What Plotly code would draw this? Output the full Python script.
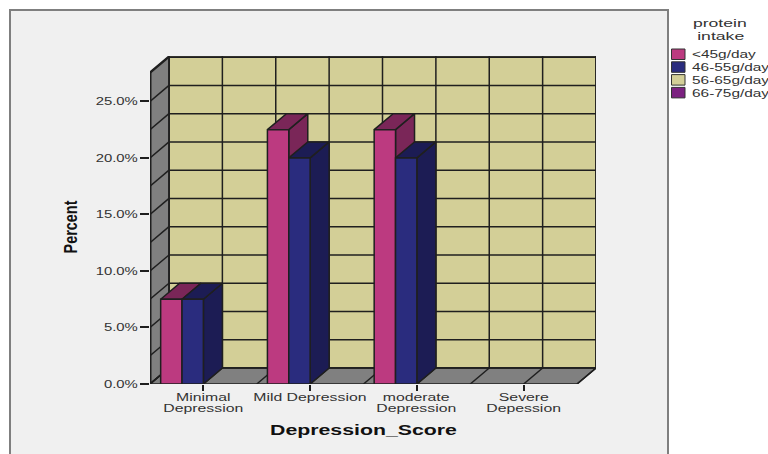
import json
import plotly.graph_objects as go

# Chart values
categories = ["Minimal Depression", "Mild Depression", "moderate Depression", "Severe Depession"]
tick_first_lines = ["Minimal", "Mild Depression", "moderate", "Severe"]
tick_second_lines = ["Depression", "", "Depression", "Depession"]
legend_title_lines = ["protein", "intake"]
series_names = ["<45g/day", "46-55g/day", "56-65g/day", "66-75g/day"]
intake_under_45 = [7.5, 22.5, 22.5, 0]
intake_46_55 = [7.5, 20.0, 20.0, 0]
intake_56_65 = [0, 0, 0, 0]
intake_66_75 = [0, 0, 0, 0]
y_ticks = [0, 5, 10, 15, 20, 25]
grid_values = [0, 2.5, 5, 7.5, 10, 12.5, 15, 17.5, 20, 22.5, 25, 27.5]

# Face colours per series: front, top, side
front_colors = ["#BC3A80", "#2A2C7E", "#D3CF97", "#7B2180"]
top_colors = ["#7A2658", "#1C1C54", "#8E8B63", "#501555"]
side_colors = ["#7A2658", "#1C1C54", "#8E8B63", "#501555"]
all_series = [intake_under_45, intake_46_55, intake_56_65, intake_66_75]

WALL = "#D3CF97"
SHADE = "#808080"
EDGE = "#1f1f1f"
PANEL = "#F0F0F0"
TEXT = "#333333"
FONT = "Liberation Sans"

# Oblique projection: depth offset expressed in axis units
DX = 0.178
DY = 1.416
BAR_W = 0.2
X_LO, X_HI = -0.5, 3.5
Y_TOP = 27.6

# Plot area in page pixels, used for placing items outside the axes
PL, PR, PT, PB = 150, 596, 56, 384


def px(x):
    return (x - PL) / (PR - PL)


def py(y):
    return (PB - y) / (PB - PT)


fig = go.Figure()
shapes = [
    dict(type="rect", xref="paper", yref="paper", x0=px(10), x1=px(668), y0=py(470), y1=py(10),
         fillcolor=PANEL, line=dict(color="#7f7f7f", width=2), layer="below"),
]


def poly(xs, ys, fill, width=1.5):
    path = "M" + " L".join(f"{a},{b}" for a, b in zip(xs, ys)) + " Z"
    shapes.append(dict(type="path", path=path, xref="x", yref="y", fillcolor=fill,
                       line=dict(color=EDGE, width=width), layer="below"))


def seg(x0, y0, x1, y1, width=1.5):
    shapes.append(dict(type="line", xref="x", yref="y", x0=x0, y0=y0, x1=x1, y1=y1,
                       line=dict(color=EDGE, width=width), layer="below"))


# Back wall, side wall and floor
poly([X_LO + DX, X_HI + DX, X_HI + DX, X_LO + DX], [DY, DY, Y_TOP + DY, Y_TOP + DY], WALL)
poly([X_LO, X_LO + DX, X_LO + DX, X_LO], [0, DY, Y_TOP + DY, Y_TOP], SHADE)
poly([X_LO, X_HI, X_HI + DX, X_LO + DX], [0, 0, DY, DY], SHADE)
seg(X_LO, 0, X_LO, Y_TOP, 3)

for v in grid_values:
    seg(X_LO + DX, v + DY, X_HI + DX, v + DY)
    seg(X_LO, v, X_LO + DX, v + DY)

for k in range(9):
    xv = X_LO + k * 0.5
    seg(xv + DX, DY, xv + DX, Y_TOP + DY)
    seg(xv, 0, xv + DX, DY)


def face(xs, ys, fill):
    fig.add_trace(go.Scatter(x=xs, y=ys, mode="lines", fill="toself", fillcolor=fill,
                             line=dict(color=EDGE, width=1.5), hoverinfo="skip",
                             showlegend=False, cliponaxis=False))


# Bars are painted left to right so that nearer faces cover the ones behind
for c in range(len(categories)):
    for s, values in enumerate(all_series):
        v = values[c]
        if v <= 0:
            continue
        x0 = c - 2 * BAR_W + s * BAR_W
        x1 = x0 + BAR_W
        face([x1, x1 + DX, x1 + DX, x1, x1], [0, DY, v + DY, v, 0], side_colors[s])
        face([x0, x1, x1 + DX, x0 + DX, x0], [v, v, v + DY, v + DY, v], top_colors[s])
        face([x0, x1, x1, x0, x0], [0, 0, v, v, 0], front_colors[s])


annotations = []
widen = []  # horizontal glyph stretch for each annotation


def label(x, y, text, size, stretch=1.0, color=TEXT, xanchor="center", xref="paper", angle=0):
    annotations.append(dict(x=x, xref=xref, y=py(y), yref="paper", text=text, showarrow=False,
                            textangle=angle, xanchor=xanchor, yanchor="middle",
                            font=dict(family=FONT, size=size, color=color)))
    widen.append([stretch, xanchor == "left"])


# Category labels, set line by line to keep the leading tight
for c, (first, second) in enumerate(zip(tick_first_lines, tick_second_lines)):
    label(c, 397, first, 10, 1.58, xref="x")
    if second:
        label(c, 408.5, second, 10, 1.58, xref="x")

label(px(71), 227, "<b>Percent</b>", 18, 0.8, color="#111111", angle=-90)
label(px(363), 430, "<b>Depression_Score</b>", 14, 1.52, color="#111111")

# Legend block
for i, line in enumerate(legend_title_lines):
    label(px(720), 23 + i * 12.5, line, 11, 1.6)
for i, name in enumerate(series_names):
    top = 49 + i * 12.8
    shapes.append(dict(type="rect", xref="paper", yref="paper", x0=px(671.5), x1=px(685),
                       y0=py(top + 10.5), y1=py(top), fillcolor=front_colors[i],
                       line=dict(color="#333333", width=1), layer="below"))
    label(px(689.5), top + 5.5, name, 11, 1.4, xanchor="left")

fig.update_layout(
    width=768, height=454, autosize=False,
    margin=dict(l=PL, r=768 - PR, t=PT, b=454 - PB),
    paper_bgcolor="white", plot_bgcolor="rgba(0,0,0,0)",
    showlegend=False, shapes=shapes, annotations=annotations,
    xaxis=dict(range=[X_LO, X_HI + DX], tickmode="array", tickvals=list(range(len(categories))),
               ticktext=["" for _ in categories], ticks="outside", ticklen=6, tickwidth=1.5, tickcolor=EDGE,
               showgrid=False, zeroline=False, showline=False),
    yaxis=dict(range=[0, Y_TOP + DY], tickmode="array", tickvals=y_ticks,
               ticktext=[f"{t:.1f}%" for t in y_ticks], ticks="outside", ticklen=9, tickwidth=1.5,
               tickcolor=EDGE, showgrid=False, zeroline=False, showline=False,
               tickfont=dict(family=FONT, size=11, color=TEXT)),
)

# The text is drawn wide and low, so lengthen each run after layout;
# left-aligned runs are moved so the extra length grows to the right
stretch_script = """
var widen = %s;
function pull(t, k) {
  var w = t.getComputedTextLength();
  t.setAttribute('textLength', w * k);
  t.setAttribute('lengthAdjust', 'spacingAndGlyphs');
  return w * (k - 1) / 2;
}
document.querySelectorAll('.annotation').forEach(function (g) {
  var spec = widen[+g.getAttribute('data-index')];
  var t = g.querySelector('text');
  if (!t || spec[0] === 1) return;
  var grow = pull(t, spec[0]);
  if (spec[1]) t.setAttribute('x', parseFloat(t.getAttribute('x')) + grow);
});
document.querySelectorAll('.ytick text').forEach(function (t) { pull(t, 1.35); });
""" % json.dumps(widen)

fig.write_html("out.html", post_script=stretch_script)
